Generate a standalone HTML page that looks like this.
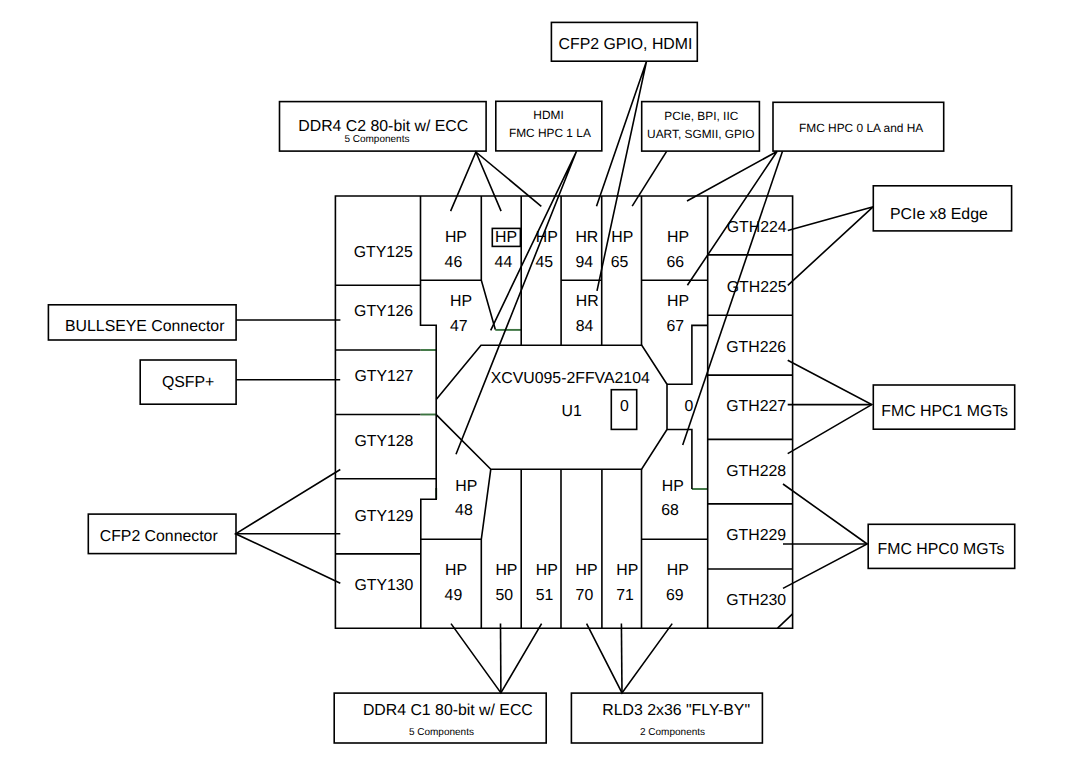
<!DOCTYPE html><html><head><meta charset="utf-8"><style>html,body{margin:0;padding:0;background:#fff;}svg{display:block;}</style></head><body>
<svg width="1073" height="767" viewBox="0 0 1073 767">
<rect width="1073" height="767" fill="#fff"/>
<g fill="none" stroke="#3c7340" stroke-width="1.9">
<polyline points="420.5,350 436.2,350"/>
<polyline points="420.5,414.5 436.2,414.5"/>
<polyline points="436.2,488 436.2,499.2"/>
<polyline points="495.3,329.9 521.2,329.9"/>
<polyline points="691.9,489 707.7,489"/>
</g>
<g fill="none" stroke="#000" stroke-width="1.6" stroke-linejoin="miter" stroke-linecap="butt">
<rect x="279.5" y="101.6" width="206.6" height="49.5"/>
<rect x="495.8" y="101.3" width="106" height="49.6"/>
<rect x="551.4" y="22.4" width="145.9" height="38.8"/>
<rect x="641.7" y="101.6" width="117.7" height="49.5"/>
<rect x="773" y="102.3" width="170.7" height="48.8"/>
<rect x="873.3" y="185.8" width="138.3" height="45.1"/>
<rect x="48.4" y="304.8" width="187.7" height="35.2"/>
<rect x="140.2" y="360" width="95.9" height="44.2"/>
<rect x="88.3" y="514.1" width="147.7" height="39.5"/>
<rect x="873.3" y="385" width="141.4" height="44.2"/>
<rect x="868.2" y="524.3" width="146.5" height="44.1"/>
<rect x="334.2" y="693.1" width="212" height="49.9"/>
<rect x="571.4" y="693.1" width="191" height="49.9"/>
<rect x="492.3" y="228.4" width="28.1" height="18"/>
<rect x="611.3" y="389.7" width="25.4" height="39.7"/>
<polygon points="335.4,196 792.6,196 792.6,628.2 335.4,628.2"/>
<polyline points="335.4,285.3 420.5,285.3"/>
<polyline points="420.5,196 420.5,325.3 436.2,325.3 436.2,499.2 420.8,499.2 420.8,628.2"/>
<polyline points="335.4,350 420.5,350"/>
<polyline points="335.4,414.5 420.5,414.5"/>
<polyline points="335.4,478.8 436.2,478.8"/>
<polyline points="335.4,553.9 420.8,553.9"/>
<polyline points="420.8,539.3 481.3,539.3"/>
<polyline points="420.5,280.2 481.3,280.2"/>
<polyline points="481.3,196 481.3,280.2 495.3,329.5"/>
<polyline points="521.2,196 521.2,345.2"/>
<polyline points="561.1,196 561.1,345.2"/>
<polyline points="561.1,280.2 601.7,280.2"/>
<polyline points="601.7,196 601.7,345.2"/>
<polyline points="641.5,196 641.5,345.2"/>
<polyline points="641.5,280.2 707.7,280.2"/>
<polyline points="707.7,196 707.7,628.2"/>
<polyline points="707.7,325.4 691.9,325.4 691.9,384.2 667,384.2"/>
<polyline points="436.2,399.4 481,345.2 641.8,345.2 667,384.2 667,429.5 641.6,469.2 490.8,469.2 436.2,414.6"/>
<polyline points="667,429.5 691.9,429.5 691.9,489"/>
<polyline points="641.4,539.3 707.7,539.3"/>
<polyline points="490.8,469.2 481.3,539.3 481.3,628.2"/>
<polyline points="521.2,469.2 521.2,628.2"/>
<polyline points="561,469.2 561,628.2"/>
<polyline points="601.9,469.2 601.9,628.2"/>
<polyline points="641.5,469.2 641.5,628.2"/>
<polyline points="707.7,254.9 792.6,254.9"/>
<polyline points="707.7,315.2 792.6,315.2"/>
<polyline points="707.7,375.1 792.6,375.1"/>
<polyline points="707.7,439.4 792.6,439.4"/>
<polyline points="707.7,503.9 792.6,503.9"/>
<polyline points="707.7,569 792.6,569"/>
<polyline points="777.6,628.2 792.6,613.9"/>
<polyline points="450.6,211.1 475.9,152 501.1,211.1"/>
<polyline points="475.9,152 541.3,206.3"/>
<polyline points="490.7,330.3 576.5,151.3 456,454.3"/>
<polyline points="596.5,206.2 646.5,61.3 597,290.8"/>
<polyline points="666.6,151.3 632.2,206.2"/>
<polyline points="687,201 777,151.5 687.4,285.3"/>
<polyline points="782.5,151.3 682.7,445"/>
<polyline points="787.8,230.4 873.3,206.7 787.8,285.3"/>
<polyline points="236.1,320 340.4,320"/>
<polyline points="236.1,379.7 340.2,379.7"/>
<polyline points="340.3,469.5 235.6,533.8 340.3,583.2"/>
<polyline points="235.6,533.8 340.3,533.8"/>
<polyline points="787.7,360.3 871.7,404.6 787.7,453.6"/>
<polyline points="787.7,404.6 871.7,404.6"/>
<polyline points="783,484 867.2,544 783,588.4"/>
<polyline points="783,544 867.2,544"/>
<polyline points="451,623.6 500.9,692.9 541.6,623.6"/>
<polyline points="500.5,623.6 500.9,692.9"/>
<polyline points="586.6,623.6 622,692.9 672.2,623.6"/>
<polyline points="621.4,623.6 622,692.9"/>
</g>
<g font-family="Liberation Sans" fill="#000" text-rendering="geometricPrecision">
<text x="298.3" y="131" font-size="15.85">DDR4 C2 80-bit w/ ECC</text>
<text x="344.4" y="142" font-size="10">5 Components</text>
<text x="533.3" y="118.7" font-size="11.9">HDMI</text>
<text x="508.9" y="136.75" font-size="11.9">FMC HPC 1 LA</text>
<text x="558.6" y="48.8" font-size="15.85">CFP2 GPIO, HDMI</text>
<text x="664.3" y="119.9" font-size="11.9">PCIe, BPI, IIC</text>
<text x="647.1" y="137.6" font-size="11.9">UART, SGMII, GPIO</text>
<text x="799" y="132.3" font-size="11.9">FMC HPC 0 LA and HA</text>
<text x="890" y="218.6" font-size="15.85">PCIe x8 Edge</text>
<text x="65" y="330.6" font-size="15.85">BULLSEYE Connector</text>
<text x="161.9" y="386.6" font-size="15.85">QSFP+</text>
<text x="99.7" y="540.5" font-size="15.85">CFP2 Connector</text>
<text x="881.3" y="416.3" font-size="15.85">FMC HPC1 MGTs</text>
<text x="877.6" y="554" font-size="15.85">FMC HPC0 MGTs</text>
<text x="362.9" y="715" font-size="15.85">DDR4 C1 80-bit w/ ECC</text>
<text x="408.9" y="735.2" font-size="10">5 Components</text>
<text x="602.3" y="715" font-size="15.85">RLD3 2x36 &quot;FLY-BY&quot;</text>
<text x="640" y="734.8" font-size="10">2 Components</text>
<text x="353.7" y="256.8" font-size="15.85">GTY125</text>
<text x="354.1" y="316.4" font-size="15.85">GTY126</text>
<text x="354.4" y="380.7" font-size="15.85">GTY127</text>
<text x="354.4" y="445.8" font-size="15.85">GTY128</text>
<text x="354.4" y="521" font-size="15.85">GTY129</text>
<text x="354.4" y="589.8" font-size="15.85">GTY130</text>
<text x="444.9" y="242" font-size="15.85">HP</text>
<text x="444.6" y="267" font-size="15.85">46</text>
<text x="495.1" y="242" font-size="15.85">HP</text>
<text x="494.6" y="267" font-size="15.85">44</text>
<text x="535.8" y="242" font-size="15.85">HP</text>
<text x="535.4" y="267" font-size="15.85">45</text>
<text x="575.4" y="241.6" font-size="15.85">HR</text>
<text x="575.4" y="266.5" font-size="15.85">94</text>
<text x="611.2" y="241.8" font-size="15.85">HP</text>
<text x="610.8" y="266.5" font-size="15.85">65</text>
<text x="667.1" y="241.8" font-size="15.85">HP</text>
<text x="666.4" y="266.5" font-size="15.85">66</text>
<text x="450.1" y="306.4" font-size="15.85">HP</text>
<text x="449.9" y="331" font-size="15.85">47</text>
<text x="575.8" y="305.7" font-size="15.85">HR</text>
<text x="575.8" y="331" font-size="15.85">84</text>
<text x="667.1" y="305.7" font-size="15.85">HP</text>
<text x="666.4" y="331" font-size="15.85">67</text>
<text x="490.7" y="382.8" font-size="15.85">XCVU095-2FFVA2104</text>
<text x="561.6" y="415.5" font-size="15.85">U1</text>
<text x="619.9" y="410.6" font-size="15.85">0</text>
<text x="684.6" y="411.3" font-size="15.85">0</text>
<text x="455.3" y="491" font-size="15.85">HP</text>
<text x="455.1" y="515.2" font-size="15.85">48</text>
<text x="661.8" y="491" font-size="15.85">HP</text>
<text x="661.3" y="515.2" font-size="15.85">68</text>
<text x="445" y="575" font-size="15.85">HP</text>
<text x="444.6" y="600" font-size="15.85">49</text>
<text x="495.4" y="575" font-size="15.85">HP</text>
<text x="495.4" y="600" font-size="15.85">50</text>
<text x="535.8" y="575" font-size="15.85">HP</text>
<text x="535.8" y="600" font-size="15.85">51</text>
<text x="575.6" y="575" font-size="15.85">HP</text>
<text x="575.6" y="600" font-size="15.85">70</text>
<text x="616.3" y="575" font-size="15.85">HP</text>
<text x="616.3" y="600" font-size="15.85">71</text>
<text x="666.7" y="575" font-size="15.85">HP</text>
<text x="666" y="600" font-size="15.85">69</text>
<text x="726.7" y="231.6" font-size="15.85">GTH224</text>
<text x="726.7" y="292.1" font-size="15.85">GTH225</text>
<text x="726.2" y="352.1" font-size="15.85">GTH226</text>
<text x="726.2" y="411" font-size="15.85">GTH227</text>
<text x="726.3" y="476" font-size="15.85">GTH228</text>
<text x="726.3" y="539.8" font-size="15.85">GTH229</text>
<text x="726.3" y="604.9" font-size="15.85">GTH230</text>
</g></svg></body></html>
